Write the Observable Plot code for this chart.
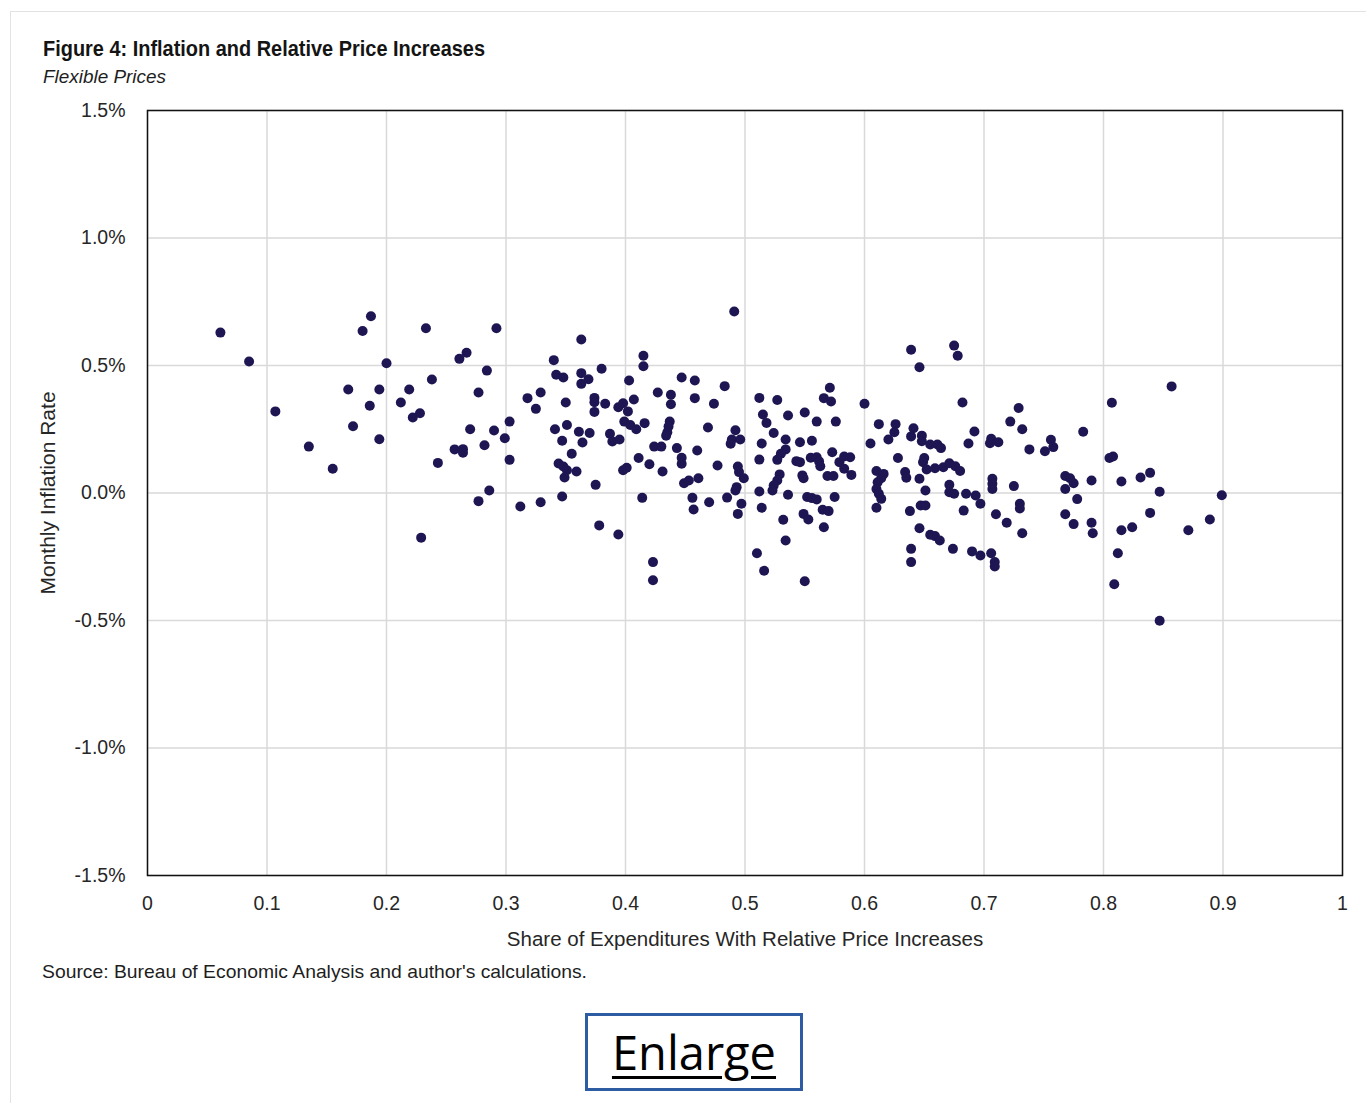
<!DOCTYPE html>
<html><head><meta charset="utf-8">
<script src="https://cdn.jsdelivr.net/npm/d3@7"></script>
<script src="https://cdn.jsdelivr.net/npm/@observablehq/plot@0.6"></script>
<style>
html,body{margin:0;padding:0;background:#fff;}
body{width:1366px;height:1103px;position:relative;overflow:hidden;font-family:"Liberation Sans",Arial,sans-serif;color:#222;}
#pageframe{position:absolute;left:10px;top:11px;width:1400px;height:1200px;border:1px solid #e2e2e2;}
.fit{position:absolute;white-space:nowrap;transform-origin:0 50%;}
#title{left:43px;top:37px;font:bold 21.5px "Liberation Sans Narrow","Liberation Sans",Arial,sans-serif;color:#141414;}
#subtitle{left:43px;top:66px;font:italic 19px "Liberation Sans Narrow","Liberation Sans",Arial,sans-serif;color:#1e1e1e;}
#chart{position:absolute;left:0;top:90px;}
#source{left:42px;top:961px;font:18.5px "Liberation Sans Narrow","Liberation Sans",Arial,sans-serif;color:#1e1e1e;}
#enlarge{position:absolute;left:585px;top:1013px;width:218px;height:78px;box-sizing:border-box;border:3px solid #2d5ca3;display:flex;align-items:center;justify-content:center;font:47px "Open Sans",sans-serif;color:#000;text-decoration:underline;text-decoration-thickness:3px;text-underline-offset:6px;}
</style>
</head><body>
<div id="pageframe"></div>
<div id="title" class="fit" data-w="442">Figure 4: Inflation and Relative Price Increases</div>
<div id="subtitle" class="fit" data-w="123">Flexible Prices</div>
<div id="chart"></div>
<div id="source" class="fit" data-w="545">Source: Bureau of Economic Analysis and author's calculations.</div>
<div id="enlarge">Enlarge</div>
<script>
// Share of expenditures with relative price increases (x)
const shares = [
0.061,0.085,0.107,0.135,0.155,0.187,0.180,0.200,0.233,0.168,0.194,0.186,0.172,0.194,0.238,0.219,0.212,0.228,0.222,0.243,0.229,0.261,0.257,0.264,0.264,
0.292,0.363,0.267,0.284,0.277,0.340,0.342,0.348,0.363,0.363,0.369,0.380,0.403,0.415,0.415,0.447,0.458,0.318,0.329,0.325,0.350,0.374,0.374,0.374,0.383,
0.394,0.398,0.402,0.407,0.427,0.438,0.438,0.458,0.474,0.303,0.290,0.270,0.299,0.282,0.303,0.341,0.351,0.347,0.361,0.370,0.364,0.355,0.387,0.389,0.395,
0.416,0.399,0.404,0.409,0.437,0.436,0.435,0.434,0.469,0.424,0.430,0.443,0.460,0.447,0.447,0.411,0.420,0.431,0.398,0.401,0.344,0.348,0.351,0.349,0.359,
0.375,0.449,0.453,0.461,0.477,0.286,0.277,0.312,0.329,0.347,0.414,0.456,0.457,0.470,0.378,0.394,0.423,0.423,
0.491,0.483,0.492,0.489,0.496,0.488,0.494,0.495,0.499,0.493,0.492,0.485,0.497,0.494,0.512,0.527,0.515,0.518,0.536,0.550,0.560,0.571,0.566,0.572,0.576,
0.524,0.514,0.534,0.546,0.556,0.512,0.534,0.530,0.527,0.543,0.546,0.555,0.560,0.562,0.563,0.573,0.579,0.583,0.588,0.583,0.589,0.569,0.574,0.548,0.549,
0.529,0.527,0.524,0.523,0.512,0.536,0.552,0.556,0.560,0.575,0.514,0.549,0.553,0.565,0.570,0.532,0.566,0.534,0.510,0.516,0.550,
0.600,0.639,0.646,0.675,0.678,0.682,0.692,0.687,0.612,0.605,0.626,0.625,0.620,0.641,0.639,0.648,0.648,0.655,0.661,0.664,0.628,0.650,0.649,0.652,0.659,
0.666,0.671,0.676,0.680,0.610,0.616,0.614,0.611,0.634,0.635,0.646,0.610,0.612,0.614,0.651,0.610,0.647,0.651,0.638,0.671,0.671,0.675,0.685,0.693,0.683,
0.646,0.655,0.659,0.663,0.674,0.690,0.697,0.639,0.639,
0.729,0.722,0.732,0.706,0.705,0.712,0.738,0.751,0.756,0.758,0.783,0.807,0.857,0.805,0.808,0.707,0.707,0.707,0.725,0.697,0.710,0.719,0.730,0.730,0.732,
0.768,0.772,0.775,0.768,0.778,0.790,0.768,0.775,0.790,0.791,0.815,0.831,0.839,0.847,0.899,0.839,0.889,0.871,0.815,0.824,0.812,0.809,0.847,0.706,0.709,0.709
];
// Monthly inflation rate, percent (y)
const rates = [
0.629,0.516,0.320,0.182,0.095,0.693,0.635,0.509,0.646,0.406,0.406,0.342,0.262,0.211,0.445,0.406,0.355,0.313,0.296,0.118,-0.175,0.526,0.171,0.172,0.158,
0.646,0.602,0.550,0.480,0.394,0.521,0.464,0.453,0.470,0.428,0.446,0.487,0.441,0.538,0.497,0.453,0.441,0.372,0.394,0.330,0.355,0.373,0.356,0.318,0.350,
0.336,0.352,0.320,0.367,0.394,0.385,0.348,0.372,0.350,0.280,0.245,0.250,0.215,0.187,0.130,0.250,0.267,0.205,0.240,0.235,0.198,0.154,0.232,0.202,0.210,
0.274,0.280,0.267,0.250,0.280,0.261,0.238,0.225,0.257,0.182,0.182,0.176,0.167,0.138,0.115,0.137,0.113,0.084,0.089,0.099,0.116,0.104,0.089,0.061,0.084,
0.032,0.038,0.049,0.058,0.108,0.010,-0.032,-0.053,-0.036,-0.014,-0.019,-0.019,-0.065,-0.036,-0.127,-0.163,-0.271,-0.342,
0.712,0.419,0.246,0.210,0.210,0.193,0.104,0.082,0.058,0.023,0.010,-0.018,-0.042,-0.082,0.373,0.365,0.308,0.275,0.304,0.316,0.280,0.413,0.372,0.359,0.280,
0.235,0.194,0.210,0.199,0.205,0.131,0.171,0.154,0.130,0.125,0.121,0.138,0.140,0.124,0.105,0.160,0.121,0.143,0.140,0.095,0.071,0.067,0.067,0.069,0.058,
0.073,0.049,0.029,0.010,0.006,-0.007,-0.016,-0.020,-0.025,-0.016,-0.058,-0.082,-0.104,-0.066,-0.071,-0.105,-0.134,-0.186,-0.236,-0.305,-0.346,
0.350,0.562,0.493,0.578,0.538,0.355,0.241,0.194,0.270,0.194,0.270,0.238,0.210,0.254,0.222,0.225,0.203,0.190,0.190,0.176,0.137,0.137,0.121,0.092,0.097,
0.101,0.117,0.105,0.086,0.086,0.075,0.058,0.042,0.082,0.060,0.056,0.016,-0.003,-0.023,0.010,-0.058,-0.049,-0.049,-0.071,0.032,0.003,-0.003,-0.003,-0.010,-0.069,
-0.138,-0.164,-0.169,-0.186,-0.219,-0.229,-0.245,-0.219,-0.271,
0.333,0.280,0.250,0.213,0.195,0.199,0.171,0.164,0.209,0.180,0.240,0.354,0.418,0.137,0.143,0.056,0.036,0.016,0.027,-0.042,-0.083,-0.117,-0.042,-0.061,-0.158,
0.067,0.058,0.038,0.016,-0.024,0.049,-0.083,-0.122,-0.117,-0.158,0.045,0.061,0.079,0.005,-0.009,-0.078,-0.104,-0.146,-0.146,-0.134,-0.236,-0.358,-0.501,-0.236,-0.271,-0.288
];
const xTicks = [0,0.1,0.2,0.3,0.4,0.5,0.6,0.7,0.8,0.9,1];
const yTicks = [-1.5,-1.0,-0.5,0,0.5,1.0,1.5];
const xLabel = "Share of Expenditures With Relative Price Increases";
const yLabel = "Monthly Inflation Rate";

const data = shares.map((s, i) => ({share: s, rate: rates[i]}));

const chart = Plot.plot({
  width: 1366, height: 870,
  marginLeft: 147, marginRight: 24, marginTop: 20, marginBottom: 85,
  style: {fontFamily: "'Liberation Sans', Arial, sans-serif", fontSize: "19.5px", color: "#262626", background: "transparent", overflow: "visible"},
  x: {domain: [0, 1], ticks: xTicks, tickFormat: d => (d === 0 ? "0" : d === 1 ? "1" : d.toFixed(1)),
      tickSize: 0, tickPadding: 21, label: xLabel, labelAnchor: "center", labelOffset: 70, labelArrow: "none"},
  y: {domain: [-1.5, 1.5], ticks: yTicks, tickFormat: d => d.toFixed(1) + "%",
      tickSize: 0, tickPadding: 22, label: yLabel, labelAnchor: "center", labelOffset: 107, labelArrow: "none"},
  marks: [
    Plot.gridX(xTicks, {stroke: "#d9d9d9", strokeOpacity: 1, strokeWidth: 1.5}),
    Plot.gridY(yTicks, {stroke: "#d9d9d9", strokeOpacity: 1, strokeWidth: 1.5}),
    Plot.frame({stroke: "#111", strokeWidth: 1.5}),
    Plot.dot(data, {x: "share", y: "rate", r: 5, fill: "#1d1652", stroke: "none"})
  ]
});
document.getElementById("chart").appendChild(chart);

// enlarge the axis titles to the reference size
const setSize = (sel, size) => chart.querySelectorAll(sel).forEach(g => {
  g.setAttribute("font-size", size);
  g.querySelectorAll("text").forEach(t => t.setAttribute("font-size", size));
});
setSize('[aria-label="x-axis label"]', "20.5px");
setSize('[aria-label="y-axis label"]', "21px");

// fit html text blocks to reference widths
document.querySelectorAll(".fit").forEach(el => {
  const w = el.getBoundingClientRect().width;
  const target = +el.dataset.w;
  if (w > 0) el.style.transform = `scaleX(${target / w})`;
});
</script>
</body></html>
